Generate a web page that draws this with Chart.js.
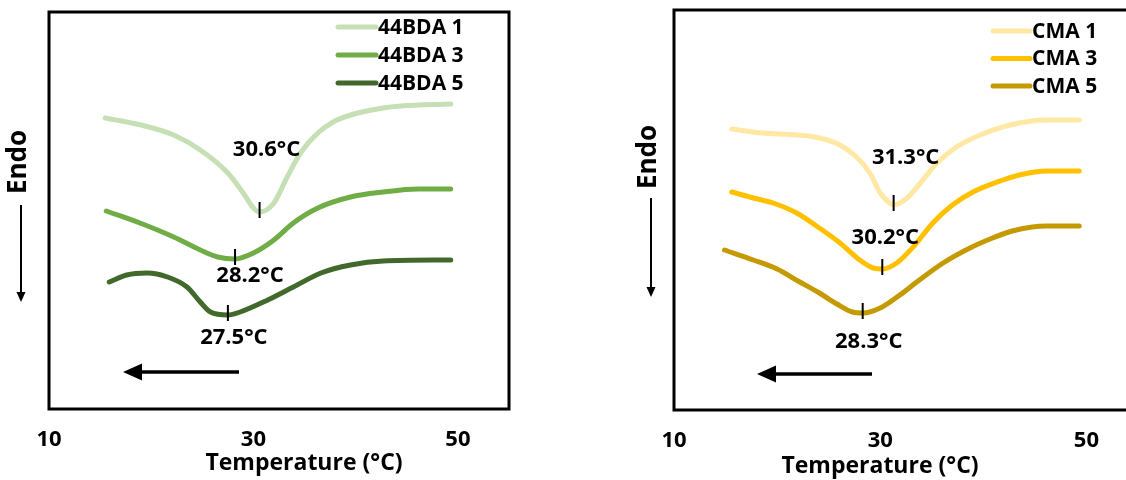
<!DOCTYPE html>
<html>
<head>
<meta charset="utf-8">
<script src="https://cdn.jsdelivr.net/npm/chart.js@4.4.0/dist/chart.umd.min.js"></script>
<style>
    html, body { margin: 0; padding: 0; background: #fff; width: 1126px; height: 480px; overflow: hidden; }
    .panel { position: absolute; top: 0; height: 480px; }
    #panel-bda { left: 0; width: 563px; }
    #panel-cma { left: 563px; width: 600px; }
</style>
</head>
<body>
<div class="panel" id="panel-bda"><canvas id="bda-chart"></canvas></div>
<div class="panel" id="panel-cma"><canvas id="cma-chart"></canvas></div>
<script>
// DSC cooling traces (temperature in °C, heat flow in arbitrary offset units)
var bda1Temp = [15.5, 19.0, 22.2, 24.8, 27.5, 29.0, 30.0, 30.6, 32.0, 33.3, 34.6, 36.3, 37.8, 39.5, 42.7, 44.4, 49.3];
var bda1Flow = [29.1, 28.4, 27.4, 25.9, 23.6, 21.6, 20.1, 19.7, 20.6, 23.2, 25.6, 27.6, 28.7, 29.4, 30.1, 30.3, 30.5];
var bda3Temp = [15.6, 18.9, 22.2, 24.8, 26.5, 28.2, 30.0, 32.0, 33.9, 36.3, 39.5, 42.7, 46.1, 49.3];
var bda3Flow = [19.8, 18.6, 17.2, 15.9, 15.2, 15.0, 15.6, 16.9, 18.6, 20.1, 21.2, 21.7, 22.0, 22.0];
var bda5Temp = [15.9, 17.6, 19.6, 21.6, 23.5, 24.8, 25.8, 27.5, 28.7, 31.4, 33.9, 36.6, 39.5, 42.7, 49.3];
var bda5Flow = [12.7, 13.4, 13.6, 13.2, 12.2, 10.7, 9.7, 9.4, 9.7, 10.9, 12.2, 13.6, 14.4, 14.8, 14.9];

var cma1Temp = [15.6, 18.6, 21.9, 24.1, 26.1, 27.7, 29.0, 30.0, 30.8, 31.3, 32.6, 33.9, 35.5, 37.4, 39.7, 42.6, 46.1, 49.3];
var cma1Flow = [28.1, 27.7, 27.5, 27.2, 26.5, 25.3, 23.7, 21.7, 20.8, 20.5, 21.2, 22.7, 24.7, 26.3, 27.5, 28.5, 29.0, 29.0];
var cma3Temp = [15.6, 17.7, 19.6, 21.9, 24.1, 26.1, 28.0, 29.3, 30.2, 31.6, 33.2, 35.1, 37.0, 39.0, 41.9, 43.5, 46.1, 49.3];
var cma3Flow = [21.8, 21.2, 20.7, 19.7, 18.2, 16.7, 15.0, 14.2, 14.1, 14.7, 16.3, 18.7, 20.5, 21.8, 23.0, 23.5, 23.9, 23.9];
var cma5Temp = [14.9, 17.7, 20.0, 22.2, 24.1, 25.8, 27.3, 28.3, 30.0, 31.9, 33.8, 36.1, 38.7, 40.9, 42.8, 46.1, 49.3];
var cma5Flow = [16.0, 15.0, 14.1, 12.8, 11.7, 10.6, 9.8, 9.7, 10.2, 11.5, 13.0, 14.7, 16.2, 17.2, 17.9, 18.4, 18.4];

var bdaNames = ['44BDA 1', '44BDA 3', '44BDA 5'];
var cmaNames = ['CMA 1', 'CMA 3', 'CMA 5'];

// crystallisation peaks, one per trace
var bdaPeaks = [30.6, 28.2, 27.5];
var bdaPeakLabels = ['30.6°C', '28.2°C', '27.5°C'];
var cmaPeaks = [31.3, 30.2, 28.3];
var cmaPeakLabels = ['31.3°C', '30.2°C', '28.3°C'];

var xTicks = [10, 30, 50];

var FONT = '"Open Sans", "Noto Sans", sans-serif';
Chart.defaults.font.family = FONT;
Chart.defaults.font.weight = 'bold';
Chart.defaults.color = '#000';

function toPoints(temps, flows) {
    return temps.map(function(t, i) { return { x: t, y: flows[i] }; });
}

function drawArrowHead(ctx, tipX, tipY, dir, len, half) {
    // dir: 'left' or 'down'
    ctx.beginPath();
    ctx.moveTo(tipX, tipY);
    if (dir === 'left') {
        ctx.lineTo(tipX + len, tipY - half);
        ctx.lineTo(tipX + len, tipY + half);
    } else {
        ctx.lineTo(tipX - half, tipY - len);
        ctx.lineTo(tipX + half, tipY - len);
    }
    ctx.closePath();
    ctx.fill();
}

var panelDecor = {
    id: 'panelDecor',
    afterDatasetsDraw: function(chart, args, opts) {
        var ctx = chart.ctx;
        var area = chart.chartArea;
        var xs = chart.scales.x;
        var ys = chart.scales.y;

        ctx.save();
        ctx.fillStyle = '#000';
        ctx.strokeStyle = '#000';

        // frame
        ctx.lineWidth = 3;
        ctx.strokeRect(area.left, area.top, area.right - area.left, area.bottom - area.top);

        // peak markers and labels
        ctx.font = 'bold 22px ' + FONT;
        ctx.textAlign = 'center';
        ctx.textBaseline = 'middle';
        opts.peaks.forEach(function(t, i) {
            var pt = chart.data.datasets[i].data.find(function(p) { return p.x === t; });
            var px = xs.getPixelForValue(t);
            var py = ys.getPixelForValue(pt.y);
            ctx.lineWidth = 2;
            ctx.beginPath();
            ctx.moveTo(px, py - 10);
            ctx.lineTo(px, py + 6);
            ctx.stroke();
            ctx.fillText(opts.peakLabels[i], px + opts.labelOffsets[i][0], py + opts.labelOffsets[i][1]);
        });

        // legend
        ctx.textAlign = 'left';
        ctx.font = 'bold 21px ' + FONT;
        ctx.lineCap = 'round';
        chart.data.datasets.forEach(function(ds, i) {
            var ly = opts.legend.y + i * opts.legend.gap;
            ctx.strokeStyle = ds.borderColor;
            ctx.lineWidth = 5;
            ctx.beginPath();
            ctx.moveTo(opts.legend.x, ly);
            ctx.lineTo(opts.legend.x + opts.legend.len, ly);
            ctx.stroke();
            ctx.fillText(ds.label, opts.legend.x + opts.legend.len + 2, ly + 1);
        });
        ctx.lineCap = 'butt';
        ctx.strokeStyle = '#000';

        // cooling direction arrow
        var ha = opts.coolArrow;
        ctx.lineWidth = 3.5;
        ctx.beginPath();
        ctx.moveTo(ha.x1, ha.y);
        ctx.lineTo(ha.x2 + 16, ha.y);
        ctx.stroke();
        drawArrowHead(ctx, ha.x2, ha.y, 'left', 19, 8.5);

        // Endo label with downward arrow
        var en = opts.endo;
        ctx.save();
        ctx.translate(en.x, en.textY);
        ctx.rotate(-Math.PI / 2);
        ctx.textAlign = 'center';
        ctx.font = 'bold 26px ' + FONT;
        ctx.fillText('Endo', 0, 0);
        ctx.restore();
        ctx.lineWidth = 2;
        ctx.beginPath();
        ctx.moveTo(en.x + en.arrowDx, en.y1);
        ctx.lineTo(en.x + en.arrowDx, en.y2 - 8);
        ctx.stroke();
        drawArrowHead(ctx, en.x + en.arrowDx, en.y2, 'down', 10, 4.5);

        // axis title
        ctx.textAlign = 'center';
        ctx.font = 'bold 23px ' + FONT;
        ctx.fillText('Temperature (°C)', opts.title.x, opts.title.y);

        ctx.restore();
    }
};

function buildChart(canvasId, names, colors, series, decor, frame) {
    var datasets = series.map(function(s, i) {
        return {
            label: names[i],
            data: toPoints(s[0], s[1]),
            borderColor: colors[i],
            borderWidth: 5,
            borderCapStyle: 'round',
            cubicInterpolationMode: 'monotone',
            pointRadius: 0,
            fill: false
        };
    });

    return new Chart(document.getElementById(canvasId), {
        type: 'line',
        data: { datasets: datasets },
        options: {
            responsive: true,
            maintainAspectRatio: false,
            animation: false,
            layout: {
                padding: { left: frame.left, right: frame.right, top: frame.top, bottom: 0 }
            },
            plugins: {
                legend: { display: false },
                tooltip: { enabled: false },
                panelDecor: decor
            },
            scales: {
                x: {
                    type: 'linear',
                    min: 10,
                    max: 55,
                    afterBuildTicks: function(scale) {
                        scale.ticks = xTicks.map(function(v) { return { value: v }; });
                    },
                    afterFit: function(scale) { scale.height = frame.axisHeight; },
                    grid: { display: false, drawTicks: false },
                    border: { display: false },
                    ticks: { padding: frame.tickPad, font: { size: 22, weight: 'bold' }, maxRotation: 0 }
                },
                y: {
                    display: false,
                    min: 0,
                    max: frame.yMax
                }
            }
        },
        plugins: [panelDecor]
    });
}

buildChart('bda-chart', bdaNames, ['#c5e0b4', '#70ad47', '#41692c'],
    [[bda1Temp, bda1Flow], [bda3Temp, bda3Flow], [bda5Temp, bda5Flow]],
    {
        peaks: bdaPeaks,
        peakLabels: bdaPeakLabels,
        labelOffsets: [[7, -62], [15, 17], [6, 23]],
        legend: { x: 338, y: 27, gap: 28, len: 38 },
        coolArrow: { x1: 239, x2: 123, y: 372 },
        endo: { x: 19, textY: 162, arrowDx: 2, y1: 205, y2: 302 },
        title: { x: 304, y: 463 }
    },
    { left: 49, right: 54, top: 12, axisHeight: 71, tickPad: 18, yMax: 39.7 });

buildChart('cma-chart', cmaNames, ['#ffe8a3', '#ffc000', '#c49a00'],
    [[cma1Temp, cma1Flow], [cma3Temp, cma3Flow], [cma5Temp, cma5Flow]],
    {
        peaks: cmaPeaks,
        peakLabels: cmaPeakLabels,
        labelOffsets: [[12, -47], [3, -31], [6, 29]],
        legend: { x: 430, y: 31, gap: 27.5, len: 37 },
        coolArrow: { x1: 309, x2: 194, y: 374 },
        endo: { x: 86, textY: 157, arrowDx: 2, y1: 198, y2: 297 },
        title: { x: 317, y: 466 }
    },
    { left: 111, right: 25, top: 10, axisHeight: 70, tickPad: 18, yMax: 40 });
</script>
</body>
</html>
